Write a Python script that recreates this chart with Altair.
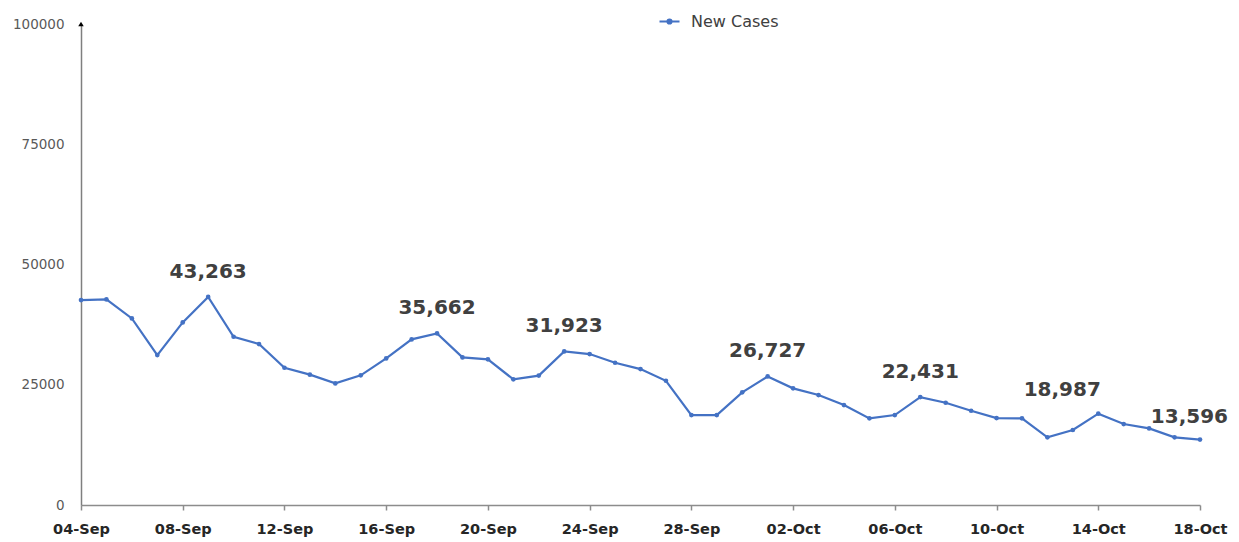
import altair as alt
import pandas as pd

dates = pd.date_range("2020-09-04", "2020-10-18", freq="D").strftime("%Y-%m-%d").tolist()

new_cases = [42600, 42740, 38790, 31170, 37960, 43263, 34980, 33460, 28530, 27100,
             25280, 26950, 30480, 34430, 35662, 30690, 30280, 26120, 26900, 31923,
             31380, 29580, 28260, 25830, 18700, 18700, 23420, 26727, 24250, 22860,
             20780, 18010, 18700, 22431, 21260, 19600, 18080, 18010, 14070, 15590,
             18987, 16830, 15930, 14070, 13596]

label_dates = ["2020-09-09", "2020-09-18", "2020-09-23", "2020-10-01",
               "2020-10-07", "2020-10-14", "2020-10-18"]
left_label_date = "2020-10-14"
edge_label_date = "2020-10-18"

tick_dates = ["2020-09-04", "2020-09-08", "2020-09-12", "2020-09-16", "2020-09-20",
              "2020-09-24", "2020-09-28", "2020-10-02", "2020-10-06", "2020-10-10",
              "2020-10-14", "2020-10-18"]
y_ticks = [0, 25000, 50000, 75000, 100000]
series_name = "New Cases"
line_color = "#4472C4"

df = pd.DataFrame({"date": dates, "cases": new_cases, "series": series_name})
lab = df[df["date"].isin(label_dates)].copy()
lab["day"] = lab["date"]
lab["text"] = lab["cases"].map(lambda v: f"{v:,}")
arrow_df = pd.DataFrame({"date": [dates[0]], "cases": [y_ticks[-1]]})


def dt(s):
    y, m, d = (int(p) for p in s.split("-"))
    return alt.DateTime(year=y, month=m, date=d, utc=True)


x_enc = alt.X(
    "date:T", timeUnit="utcyearmonthdate", title=None,
    scale=alt.Scale(domain=[dt(dates[0]), dt(dates[-1])], nice=False),
    axis=alt.Axis(values=[dt(t) for t in tick_dates], format="%d-%b", grid=False,
                  labelFont="DejaVu Sans", labelFontWeight="bold", labelFontSize=14.5,
                  labelColor="#262626", tickSize=5, tickColor="#8c8c8c", tickWidth=1.5,
                  domainColor="#8c8c8c", domainWidth=1.5, labelPadding=12,
                  labelFlush=False, labelOverlap=False),
)
y_enc = alt.Y(
    "cases:Q", title=None,
    scale=alt.Scale(domain=[y_ticks[0], y_ticks[-1]], nice=False),
    axis=alt.Axis(values=y_ticks, format="d", grid=False, ticks=False,
                  labelFont="DejaVu Sans", labelFontSize=13.5, labelColor="#595959",
                  domainColor="#7f7f7f", domainWidth=1.5, labelPadding=17),
)

base = alt.Chart(df)

line = base.mark_line(strokeWidth=2.2).encode(
    x=x_enc, y=y_enc,
    color=alt.Color("series:N", scale=alt.Scale(domain=[series_name], range=[line_color]),
                    legend=alt.Legend(title=None, orient="none", legendX=567, legendY=-24,
                                      symbolType="M-0.5,0H0.5M-0.1,0A0.1,0.1,0,1,1,0.1,0A0.1,0.1,0,1,1,-0.1,0Z",
                                      symbolSize=1600, symbolStrokeWidth=2.2,
                                      symbolFillColor=line_color,
                                      labelFont="DejaVu Sans", labelFontSize=16,
                                      labelColor="#404040", labelOffset=0)),
)

points = base.mark_point(filled=True, size=22, color=line_color, opacity=1).encode(
    x=x_enc, y=y_enc
)

text_style = dict(font="DejaVu Sans", fontWeight="bold", fontSize=20, color="#404040",
                  baseline="middle")

labels = alt.Chart(lab).transform_filter(
    (alt.datum.day != left_label_date) & (alt.datum.day != edge_label_date)
).mark_text(dy=-25, **text_style).encode(x=x_enc, y=y_enc, text="text:N")

labels_left = alt.Chart(lab).transform_filter(
    alt.datum.day == left_label_date
).mark_text(dx=-36, dy=-24, **text_style).encode(x=x_enc, y=y_enc, text="text:N")

labels_edge = alt.Chart(lab).transform_filter(
    alt.datum.day == edge_label_date
).mark_text(align="right", dx=28, dy=-23, **text_style).encode(x=x_enc, y=y_enc, text="text:N")

arrow = alt.Chart(arrow_df).mark_point(shape="triangle-up", filled=True, size=30,
                                       color="#000000", opacity=1).encode(
    x=x_enc, y=y_enc
)

chart = alt.layer(line, points, labels, labels_left, labels_edge, arrow).properties(
    width=1119, height=481, autosize="none",
    padding={"left": 73, "top": 16, "right": 30, "bottom": 32},
    background="white",
).configure_view(stroke=None)

chart.save("out.html", embed_options={"renderer": "svg", "actions": False})
